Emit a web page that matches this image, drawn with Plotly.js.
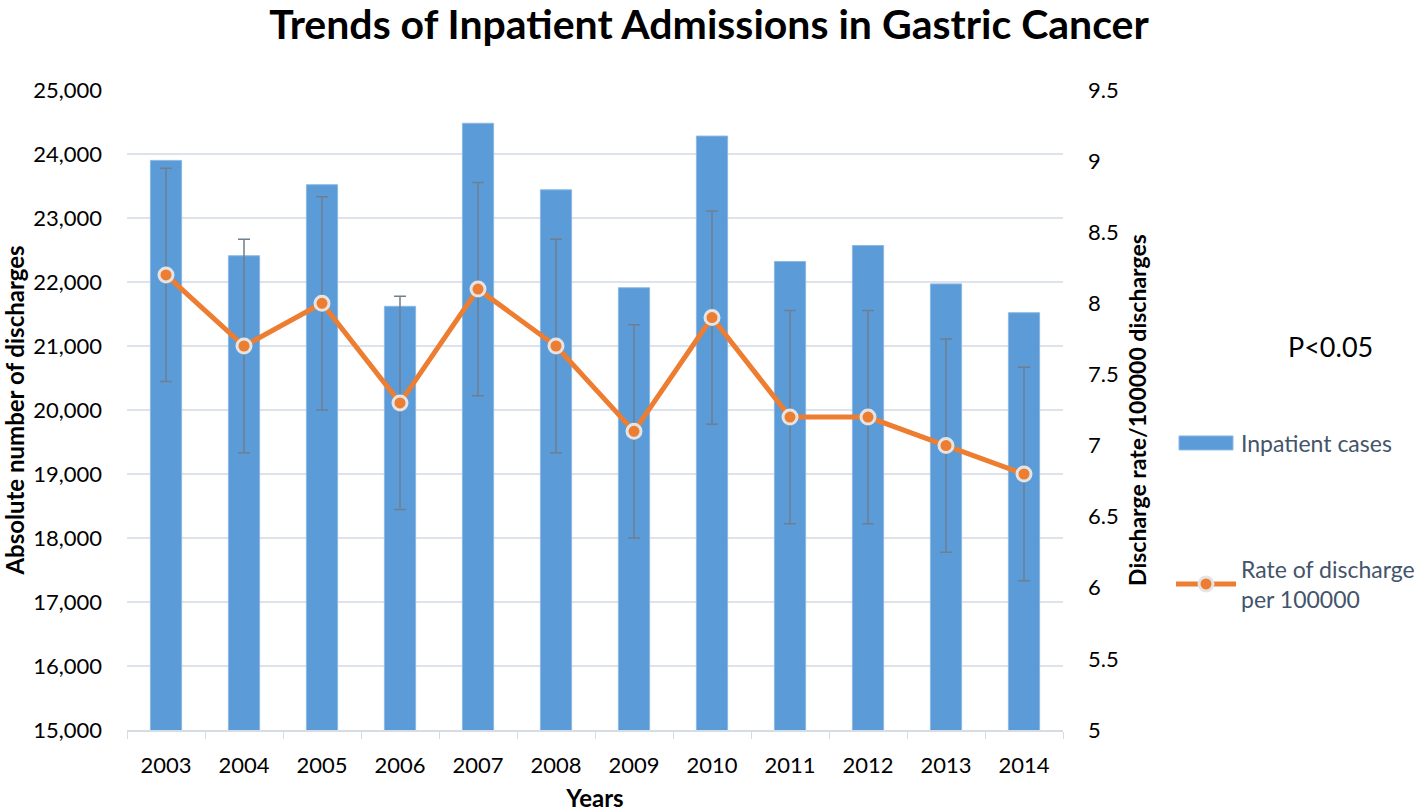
<!DOCTYPE html>
<html>
<head>
<meta charset="utf-8">
<script src="https://cdn.plot.ly/plotly-3.0.1.min.js"></script>
<style>
html, body { margin: 0; padding: 0; background: #ffffff; }
#chart { width: 1418px; height: 812px; }
</style>
</head>
<body>
<div id="chart"></div>
<script>
const years = ["2003","2004","2005","2006","2007","2008","2009","2010","2011","2012","2013","2014"];
const inpatientCases = [23900, 22410, 23520, 21620, 24480, 23440, 21910, 24280, 22320, 22570, 21970, 21520];
const dischargeRate = [8.2, 7.7, 8.0, 7.3, 8.1, 7.7, 7.1, 7.9, 7.2, 7.2, 7.0, 6.8];
const rateError = [0.75, 0.75, 0.75, 0.75, 0.75, 0.75, 0.75, 0.75, 0.75, 0.75, 0.75, 0.75];
const leftTicks = [15000, 16000, 17000, 18000, 19000, 20000, 21000, 22000, 23000, 24000, 25000];
const rightTicks = [5, 5.5, 6, 6.5, 7, 7.5, 8, 8.5, 9, 9.5];

const FONT = "Lato, 'Open Sans', sans-serif";

const traces = [
  {
    type: "bar",
    name: "Inpatient cases",
    x: years,
    y: inpatientCases,
    width: 0.4,
    marker: { color: "#5a9bd8", line: { color: "#8bb8e4", width: 1 } },
    legend: "legend",
    hoverinfo: "x+y"
  },
  {
    type: "scatter",
    mode: "lines+markers",
    name: "Rate of discharge<br>per 100000",
    x: years,
    y: dischargeRate,
    yaxis: "y2",
    line: { color: "#ed7d31", width: 5 },
    marker: { color: "#ed7d31", size: 14, line: { color: "#e4e4e4", width: 3 } },
    error_y: { type: "data", array: rateError, visible: true, color: "#6f7f90", thickness: 1.5, width: 6 },
    legend: "legend2"
  }
];

const W = 1418, H = 812;

const layout = {
  width: W,
  height: H,
  paper_bgcolor: "#ffffff",
  plot_bgcolor: "#ffffff",
  margin: { l: 127, r: 355, t: 90, b: 82, autoexpand: false },
  font: { family: FONT, color: "#000000", size: 22 },
  title: {
    text: "<b>Trends of Inpatient Admissions in Gastric Cancer</b>",
    font: { family: FONT, size: 41, color: "#000000" },
    x: 0.5, xanchor: "center", xref: "container",
    y: 1 - 25 / H, yanchor: "middle", yref: "container"
  },
  showlegend: true,
  xaxis: {
    type: "category",
    range: [-0.5, years.length - 0.5],
    automargin: false,
    showgrid: false,
    showline: true,
    linecolor: "#d5dce6",
    linewidth: 2,
    ticks: "outside",
    tickson: "boundaries",
    ticklen: 7,
    tickcolor: "#d5dce6",
    tickfont: { family: FONT, size: 22, color: "#000000" },
    ticklabelstandoff: 15,
    title: { text: "<b>Years</b>", font: { family: FONT, size: 24, color: "#000000" }, standoff: 38 },
    zeroline: false
  },
  yaxis: {
    range: [15000, 25000],
    automargin: false,
    tickvals: leftTicks,
    tickformat: ",d",
    showgrid: true,
    gridcolor: "#dde3ec",
    gridwidth: 1.5,
    zeroline: false,
    showline: false,
    ticks: "",
    tickfont: { family: FONT, size: 22, color: "#000000" },
    ticklabelstandoff: 24,
    title: { text: "<b>Absolute number of discharges</b>", font: { family: FONT, size: 24, color: "#000000" }, standoff: 10 }
  },
  yaxis2: {
    overlaying: "y",
    side: "right",
    range: [5, 9.5],
    automargin: false,
    tickvals: rightTicks,
    showgrid: false,
    zeroline: false,
    showline: false,
    ticks: "",
    tickfont: { family: FONT, size: 22, color: "#000000" },
    ticklabelstandoff: 24,
    title: { text: "<b>Discharge rate/100000 discharges</b>", font: { family: FONT, size: 23, color: "#000000" }, standoff: 12 }
  },
  legend: {
    xref: "container", yref: "container",
    x: 1171 / W, xanchor: "left",
    y: 1 - 443 / H, yanchor: "middle",
    font: { family: FONT, size: 23, color: "#44546a" },
    itemwidth: 60,
    bgcolor: "rgba(0,0,0,0)"
  },
  legend2: {
    xref: "container", yref: "container",
    x: 1171 / W, xanchor: "left",
    y: 1 - 584 / H, yanchor: "middle",
    font: { family: FONT, size: 23, color: "#44546a" },
    itemwidth: 60,
    bgcolor: "rgba(0,0,0,0)"
  },
  annotations: [
    {
      text: "P<0.05",
      xref: "paper", yref: "paper",
      x: (1330 - 127) / 936, y: (730 - 346) / 640,
      xanchor: "center", yanchor: "middle",
      showarrow: false,
      font: { family: FONT, size: 27, color: "#000000" }
    }
  ]
};

const gd = document.getElementById("chart");
function widenBarSwatch() {
  gd.querySelectorAll(".legend .legendpoints path").forEach(p => {
    const parentTrace = p.closest(".traces");
    if (parentTrace && parentTrace.textContent.indexOf("Inpatient cases") >= 0) {
      if (p.getAttribute("d") && p.getAttribute("d").indexOf("M6,6H-6V-6H6Z") === 0) {
        p.setAttribute("d", "M27,7H-27V-7H27Z");
      }
    }
  });
}
Plotly.newPlot(gd, traces, layout, { displayModeBar: false, responsive: false }).then(() => {
  widenBarSwatch();
  gd.on("plotly_afterplot", widenBarSwatch);
});
</script>
</body>
</html>
